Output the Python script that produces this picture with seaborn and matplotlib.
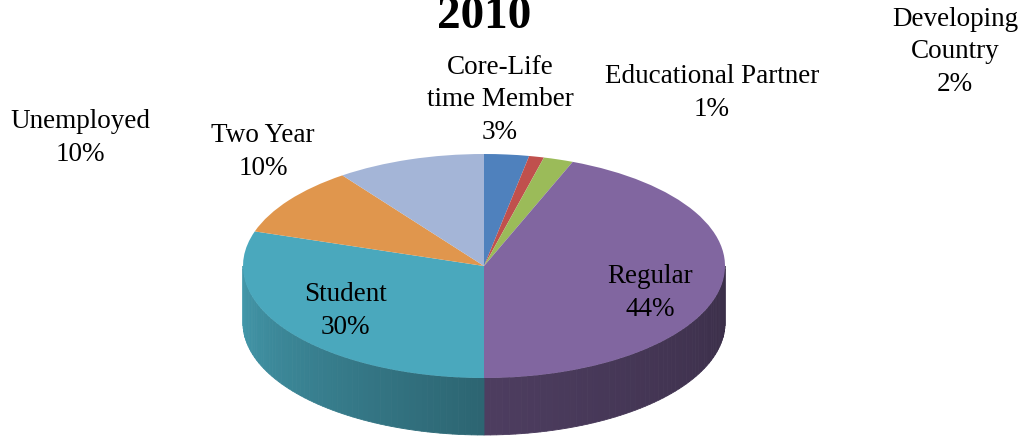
import numpy as np
import matplotlib
matplotlib.use("Agg")
import matplotlib.pyplot as plt
import seaborn as sns
from matplotlib.colors import to_rgb

# ---- data ----
categories = ["Core-Life\ntime Member", "Educational Partner", "Developing\nCountry",
              "Regular", "Student", "Two Year", "Unemployed"]
values = [3, 1, 2, 44, 30, 10, 10]
colors = ["#4F81BD", "#C0504D", "#9BBB59", "#8166A0", "#4AA8BD", "#E0964D", "#A4B5D7"]
title = "2010"
# label centres in pixel coordinates (x, y from top)
label_pos = [(500, 100), (712, 93), (955, 52), (650, 293), (345, 311), (263, 152), (80, 138)]

sns.set_theme(style="white")
plt.rcParams['font.family'] = ['Liberation Serif', 'DejaVu Serif']

W, H = 1024, 436
fig = plt.figure(figsize=(W / 100, H / 100), dpi=100)
ax = fig.add_axes([0, 0, 1, 1])

# ellipse geometry (pixels)
cx, cy, a, b, depth = 484, 266, 241, 112, 57
d = depth / b

vals = np.array(values, dtype=float)
fr = vals / vals.sum()
cum = np.concatenate([[0], np.cumsum(fr)])
start, end = 90 - 360 * cum[:-1], 90 - 360 * cum[1:]

def shade(theta):
    # theta in degrees within [180, 360]
    if theta <= 270:
        return 0.92 - 0.32 * (theta - 180) / 90
    return 0.6 - 0.15 * (theta - 270) / 90

# side walls (front half only)
for s, e, col in zip(start, end, colors):
    lo, hi = min(s, e), max(s, e)
    for off in (0, 360, -360):
        l2, h2 = max(lo + off, 180), min(hi + off, 360)
        if h2 <= l2:
            continue
        n = max(2, int((h2 - l2) / 1.5))
        th = np.linspace(l2, h2, n + 1)
        base = np.array(to_rgb(col))
        for t1, t2 in zip(th[:-1], th[1:]):
            tm = 0.5 * (t1 + t2)
            c = np.clip(base * shade(tm), 0, 1)
            r1, r2 = np.radians(t1), np.radians(t2)
            xs = [np.cos(r1), np.cos(r2), np.cos(r2), np.cos(r1)]
            ys = [np.sin(r1), np.sin(r2), np.sin(r2) - d, np.sin(r1) - d]
            ax.fill(xs, ys, color=c, lw=0.6, ec=c, zorder=1)

# top face
wedges, _ = ax.pie(vals, colors=colors, startangle=90, counterclock=False,
                   radius=1, center=(0, 0), wedgeprops=dict(linewidth=0))
for w in wedges:
    w.set_zorder(3)

ax.set_aspect('auto')
ax.set_xlim((0 - cx) / a, (W - cx) / a)
ax.set_ylim((cy - H) / b, cy / b)
ax.axis('off')

# labels
for cat, v, (px, py) in zip(categories, values, label_pos):
    fig.text(px / W, 1 - py / H, f"{cat}\n{v}%", ha='center', va='center',
             fontsize=19.5, color='black', linespacing=1.38, multialignment='center')

fig.text(484 / W, 1 - 28 / H, title, ha='center', va='baseline',
         fontsize=34, fontweight='bold', color='black')

fig.savefig("out.png", dpi=100)
